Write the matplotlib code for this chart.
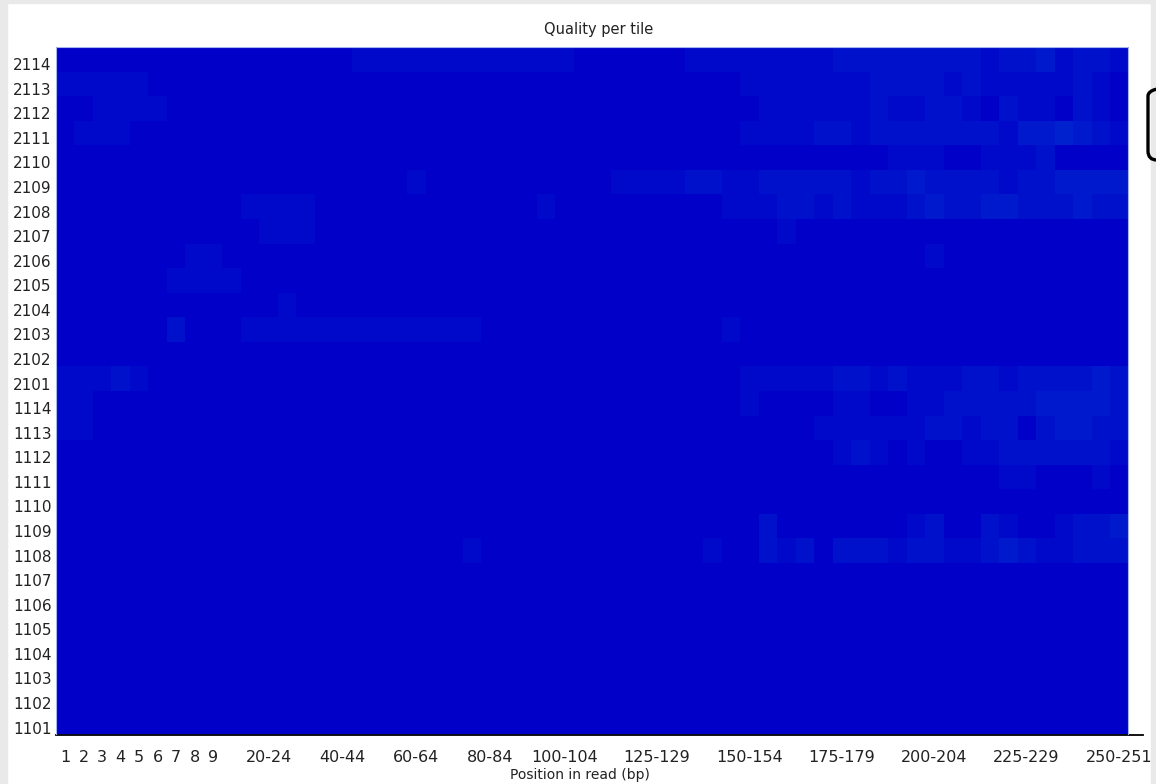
"""FastQC style 'Quality per tile' heatmap."""
import numpy as np
import matplotlib
matplotlib.use("Agg")
import matplotlib.pyplot as plt
from matplotlib.colors import LinearSegmentedColormap
from matplotlib.patches import FancyBboxPatch, Rectangle
from matplotlib.transforms import IdentityTransform

# ── data ──────────────────────────────────────────────────────────────────────
TILES = ["2114", "2113", "2112", "2111", "2110", "2109", "2108", "2107",
         "2106", "2105", "2104", "2103", "2102", "2101",
         "1114", "1113", "1112", "1111", "1110", "1109", "1108", "1107",
         "1106", "1105", "1104", "1103", "1102", "1101"]
GROUPS = [str(i) for i in range(1, 10)] + [f"{s}-{s + 4}" for s in range(10, 250, 5)] + ["250-251"]
SHOWN = ["1", "2", "3", "4", "5", "6", "7", "8", "9", "20-24", "40-44", "60-64",
         "80-84", "100-104", "125-129", "150-154", "175-179", "200-204",
         "225-229", "250-251"]

# per-tile deviation, one digit per position group (0 = no deviation)
DEV_2114 = "0000000000000000" "111111111111000000" "111111112222222212231221"
DEV_2113 = "11111" "00000000000000000000000000000" "000111111122221211111210"
DEV_2112 = "00" "1111" "0000000000000000000000000000" "000011111121122102110210"
DEV_2111 = "0111" "000000000000000000000000000000" "000111122122222221334321"
DEV_2110 = "0000000000000000000000000000000000" "000000000001110011120000"
DEV_2109 = "0000000000000000000" "1" "0000000000" "1111" "221122222122322221223333"
DEV_2108 = "0000000000" "1111" "000000000000" "1" "0000000" "001112212111232233222322"
DEV_2107 = "0000000000" "0111" "0000000000000000000000000" "1" "000000000000000000"
DEV_2106 = "0000000110" "0000000000000000000000000000000000000" "1" "0000000000"
DEV_2105 = "000000" "1111" "000000000000000000000000000000000000000000000000"
DEV_2104 = "000000000000" "1" "000000000000000000000000000000000000000000000"
DEV_2103 = "000000" "2" "000" "1111111111111" "0000000000000" "1" "000000000000000000000"
DEV_2102 = "0000000000000000000000000000000000000000000000000000000000"
DEV_2101 = "11121" "00000000000000000000000000000" "000111112212111221222232"
DEV_1114 = "11" "00000000000000000000000000000000" "000100001100112222233332"
DEV_1113 = "11" "00000000000000000000000000000000" "000000011111122122023322"
DEV_1112 = "0000000000000000000000000000000000" "000000001210100112222221"
DEV_1111 = "0000000000000000000000000000000000" "000000000000000001100010"
DEV_1110 = "0000000000000000000000000000000000000000000000000000000000"
DEV_1109 = "0000000000000000000000000000000000" "000020000000120021001223"
DEV_1108 = "0000000000000000000000" "1" "00000000000" "010021202221221123211222"
DEV_1107 = "0000000000000000000000000000000000000000000000000000000000"
DEV_1106 = "0000000000000000000000000000000000000000000000000000000000"
DEV_1105 = "0000000000000000000000000000000000000000000000000000000000"
DEV_1104 = "0000000000000000000000000000000000000000000000000000000000"
DEV_1103 = "0000000000000000000000000000000000000000000000000000000000"
DEV_1102 = "0000000000000000000000000000000000000000000000000000000000"
DEV_1101 = "0000000000000000000000000000000000000000000000000000000000"

ROWS = [DEV_2114, DEV_2113, DEV_2112, DEV_2111, DEV_2110, DEV_2109, DEV_2108,
        DEV_2107, DEV_2106, DEV_2105, DEV_2104, DEV_2103, DEV_2102, DEV_2101,
        DEV_1114, DEV_1113, DEV_1112, DEV_1111, DEV_1110, DEV_1109, DEV_1108,
        DEV_1107, DEV_1106, DEV_1105, DEV_1104, DEV_1103, DEV_1102, DEV_1101]
grid = np.array([[int(c) for c in r] for r in ROWS], dtype=float)

# ── figure ────────────────────────────────────────────────────────────────────
W_PX, H_PX = 1156, 784
fig = plt.figure(figsize=(W_PX / 100, H_PX / 100), dpi=100)
fig.patch.set_facecolor("white")

# screenshot frame
for (x0, y0, w, h) in [(0, 0, 7, H_PX), (0, H_PX - 3, W_PX, 3), (W_PX - 5, 0, 5, H_PX)]:
    fig.patches.append(Rectangle((x0 / W_PX, y0 / H_PX), w / W_PX, h / H_PX,
                                 transform=fig.transFigure, color="#e9e9e9", zorder=0))

L, R, T, B = 56, 1143, 47, 735
ax = fig.add_axes([L / W_PX, 1 - B / H_PX, (R - L) / W_PX, (B - T) / H_PX])

cmap = LinearSegmentedColormap.from_list("qual", ["#0000c8", "#0022ce"])
ax.imshow(grid, cmap=cmap, vmin=0, vmax=4, aspect="auto", interpolation="nearest",
          origin="upper")
ax.set_xlim(-0.5, len(GROUPS) - 0.5 + 0.8)
ax.set_ylim(len(TILES) - 0.5, -0.5)

# light edge round the heatmap
ax.add_patch(Rectangle((-0.5, -0.5), len(GROUPS), len(TILES), fill=False,
                       edgecolor="#a8b4ec", lw=0.8, zorder=3))

for s in ("top", "right", "left"):
    ax.spines[s].set_visible(False)
ax.spines["bottom"].set_color("black")
ax.spines["bottom"].set_linewidth(1.3)

ax.set_yticks(np.arange(len(TILES)) + 0.2)
ax.set_yticklabels(TILES, fontsize=11, color="#222222")
ax.set_xticks([GROUPS.index(g) for g in SHOWN])
ax.set_xticklabels(SHOWN, fontsize=11.5, color="#222222")
ax.tick_params(axis="y", length=0, pad=3)
ax.tick_params(axis="x", length=0, pad=11)

fig.text(599 / W_PX, 1 - 34 / H_PX, "Quality per tile", ha="center", va="baseline",
         fontsize=10.5, color="#222222")
fig.text(580 / W_PX, 1 - 779 / H_PX, "Position in read (bp)", ha="center", va="baseline",
         fontsize=10, color="#222222")

# clipped box at the right edge of the screenshot
fig.patches.append(FancyBboxPatch((1148, 784 - 160), 40, 73,
                                  boxstyle="round,pad=0,rounding_size=9",
                                  transform=IdentityTransform(), fill=False,
                                  edgecolor="black", lw=2.4))

fig.savefig("out.png", dpi=100, facecolor="white")
